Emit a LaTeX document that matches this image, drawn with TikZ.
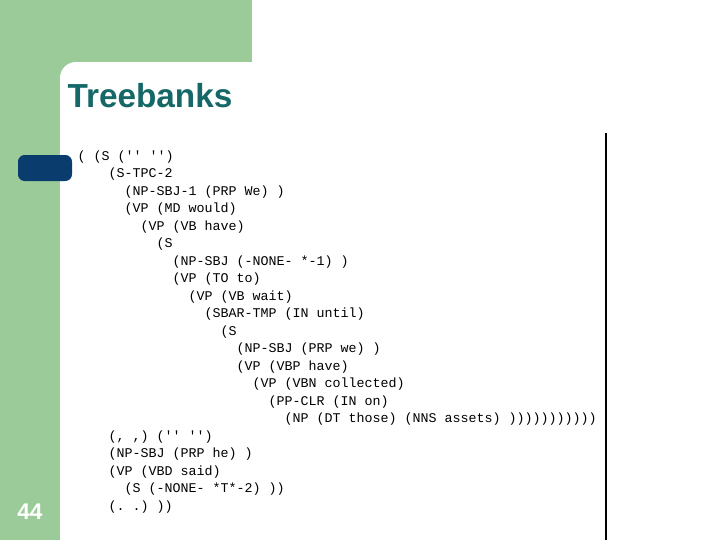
\documentclass[tikz,border=0pt]{standalone}
\usepackage{fontspec}
\setmainfont{Liberation Sans}
\setmonofont{Liberation Mono}
\definecolor{slidegreen}{RGB}{155,203,152}
\definecolor{slideblue}{RGB}{11,60,110}
\definecolor{titleteal}{RGB}{22,104,104}
\tikzset{every picture/.style={line width=0.75pt}}
\tikzset{code/.style={anchor=west,inner sep=0pt,font=\ttfamily\fontsize{10}{12}\selectfont}}

\begin{document}
\begin{tikzpicture}[x=0.75pt,y=0.75pt,yscale=-1,xscale=1]
	\useasboundingbox (0,0) rectangle (720,540);

	%Background
	\fill [slidegreen] (0,0) rectangle (252,540);
	\fill [white, rounded corners=12pt] (60,62) rectangle (740,560);
	\fill [white] (60,90) rectangle (740,560);
	%Marker
	\fill [slideblue, rounded corners=5pt] (18,155) rectangle (72,181);
	%Rule
	\draw [line width=1pt] (606,133) -- (606,540);

	% Title
	\node [anchor=west, inner sep=0pt, text=titleteal, font=\bfseries\fontsize{25}{30}\selectfont] (title) at (67,96) {Treebanks};
	% Page number
	\node [inner sep=0pt, text=white, font=\bfseries\fontsize{17}{20}\selectfont] (page) at (30,512) {44};

	% Code lines
	\node [code] (l1) at (77,157) {( (S ('' '')};
	\node [code] (l2) at (108,174.5) {(S-TPC-2};
	\node [code] (l3) at (124,192) {(NP-SBJ-1 (PRP We) )};
	\node [code] (l4) at (124,209.5) {(VP (MD would)};
	\node [code] (l5) at (140,227) {(VP (VB have)};
	\node [code] (l6) at (156,244.5) {(S};
	\node [code] (l7) at (172,262) {(NP-SBJ (-NONE- *-1) )};
	\node [code] (l8) at (172,279.5) {(VP (TO to)};
	\node [code] (l9) at (188,297) {(VP (VB wait)};
	\node [code] (l10) at (204,314.5) {(SBAR-TMP (IN until)};
	\node [code] (l11) at (220,332) {(S};
	\node [code] (l12) at (236,349.5) {(NP-SBJ (PRP we) )};
	\node [code] (l13) at (236,367) {(VP (VBP have)};
	\node [code] (l14) at (252,384.5) {(VP (VBN collected)};
	\node [code] (l15) at (268,402) {(PP-CLR (IN on)};
	\node [code] (l16) at (284,419.5) {(NP (DT those) (NNS assets) )))))))))))};
	\node [code] (l17) at (108,437) {(, ,) ('' '')};
	\node [code] (l18) at (108,454.5) {(NP-SBJ (PRP he) )};
	\node [code] (l19) at (108,472) {(VP (VBD said)};
	\node [code] (l20) at (124,489.5) {(S (-NONE- *T*-2) ))};
	\node [code] (l21) at (108,507) {(. .) ))};

\end{tikzpicture}
\end{document}
